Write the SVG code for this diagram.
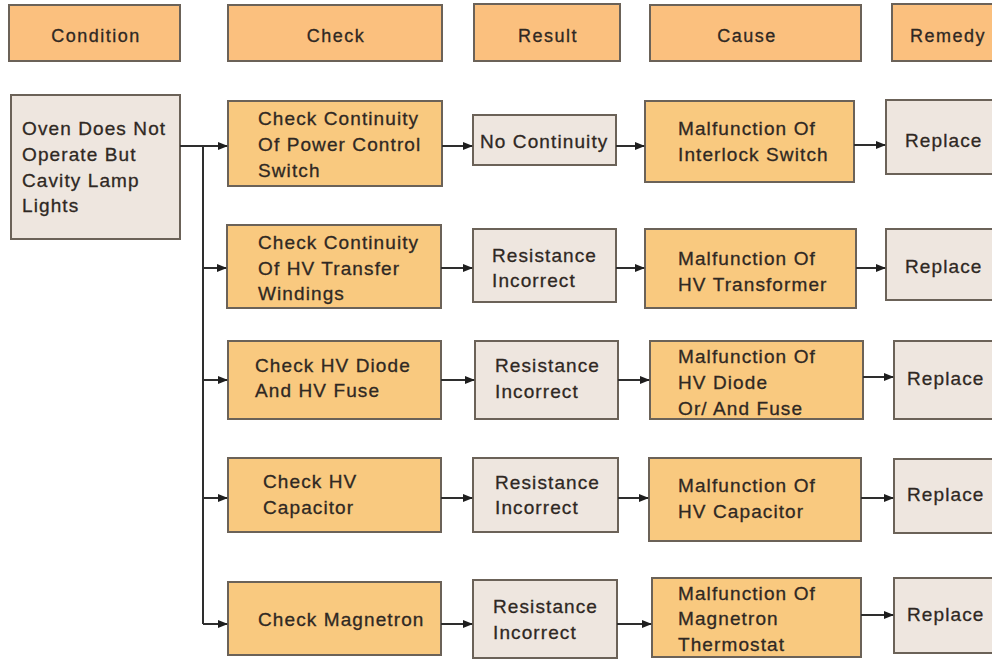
<svg xmlns="http://www.w3.org/2000/svg" width="992" height="662" viewBox="0 0 992 662">
  <style>
    .hdr { fill: #fbc07e; stroke: #6b6258; stroke-width: 2; }
    .org { fill: #f9c97f; stroke: #6b6258; stroke-width: 2; }
    .gry { fill: #eee6df; stroke: #6b6258; stroke-width: 2; }
    text { font-family: "Liberation Sans", Arial, sans-serif; fill: #2f2823; stroke: #2f2823; stroke-width: 0.3; }
    .ht { font-size: 18px; letter-spacing: 1.5px; text-anchor: middle; dominant-baseline: central; }
    .nt { font-size: 19px; letter-spacing: 1.1px; dominant-baseline: central; }
    .ln { stroke: #2e2e2e; stroke-width: 2; fill: none; }
    .ar { stroke: #2e2e2e; stroke-width: 2; fill: none; marker-end: url(#tip); }
  </style>
  <defs>
    <marker id="tip" markerWidth="10" markerHeight="10" refX="9" refY="5" orient="auto" markerUnits="userSpaceOnUse">
      <path d="M0,1 L10,5 L0,9 Z" fill="#1e1e1e"/>
    </marker>
  </defs>
  <rect width="992" height="662" fill="#ffffff"/>

  <!-- column headers -->
  <g id="hdr-condition"><rect class="hdr" x="9" y="5" width="171" height="56"/><text class="ht" x="96" y="36">Condition</text></g>
  <g id="hdr-check"><rect class="hdr" x="228" y="5" width="214" height="56"/><text class="ht" x="336" y="36">Check</text></g>
  <g id="hdr-result"><rect class="hdr" x="474" y="4" width="146" height="57"/><text class="ht" x="548" y="36">Result</text></g>
  <g id="hdr-cause"><rect class="hdr" x="650" y="5" width="211" height="56"/><text class="ht" x="747" y="36">Cause</text></g>
  <g id="hdr-remedy"><rect class="hdr" x="892" y="4" width="110" height="57"/><text class="ht" x="948" y="36">Remedy</text></g>

  <!-- condition -->
  <g id="condition">
    <rect class="gry" x="11" y="95" width="169" height="144"/>
    <text class="nt" x="22" y="128">Oven Does Not</text>
    <text class="nt" x="22" y="154">Operate But</text>
    <text class="nt" x="22" y="180">Cavity Lamp</text>
    <text class="nt" x="22" y="205">Lights</text>
  </g>

  <!-- row 1 -->
  <g id="check-1">
    <rect class="org" x="228" y="101" width="214" height="85"/>
    <text class="nt" x="258" y="118">Check Continuity</text>
    <text class="nt" x="258" y="144">Of Power Control</text>
    <text class="nt" x="258" y="170">Switch</text>
  </g>
  <g id="result-1">
    <rect class="gry" x="473" y="115" width="143" height="50"/>
    <text class="nt" x="480" y="141">No Continuity</text>
  </g>
  <g id="cause-1">
    <rect class="org" x="645" y="101" width="209" height="81"/>
    <text class="nt" x="678" y="128">Malfunction Of</text>
    <text class="nt" x="678" y="154">Interlock Switch</text>
  </g>
  <g id="remedy-1">
    <rect class="gry" x="886" y="100" width="116" height="74"/>
    <text class="nt" x="905" y="140">Replace</text>
  </g>

  <!-- row 2 -->
  <g id="check-2">
    <rect class="org" x="227" y="225" width="214" height="83"/>
    <text class="nt" x="258" y="242">Check Continuity</text>
    <text class="nt" x="258" y="268">Of HV Transfer</text>
    <text class="nt" x="258" y="293">Windings</text>
  </g>
  <g id="result-2">
    <rect class="gry" x="473" y="229" width="143" height="73"/>
    <text class="nt" x="492" y="255">Resistance</text>
    <text class="nt" x="492" y="280">Incorrect</text>
  </g>
  <g id="cause-2">
    <rect class="org" x="645" y="229" width="211" height="79"/>
    <text class="nt" x="678" y="258">Malfunction Of</text>
    <text class="nt" x="678" y="284">HV Transformer</text>
  </g>
  <g id="remedy-2">
    <rect class="gry" x="886" y="229" width="116" height="71"/>
    <text class="nt" x="905" y="266">Replace</text>
  </g>

  <!-- row 3 -->
  <g id="check-3">
    <rect class="org" x="228" y="341" width="213" height="78"/>
    <text class="nt" x="255" y="365">Check HV Diode</text>
    <text class="nt" x="255" y="390">And HV Fuse</text>
  </g>
  <g id="result-3">
    <rect class="gry" x="475" y="341" width="143" height="78"/>
    <text class="nt" x="495" y="365">Resistance</text>
    <text class="nt" x="495" y="391">Incorrect</text>
  </g>
  <g id="cause-3">
    <rect class="org" x="650" y="341" width="213" height="78"/>
    <text class="nt" x="678" y="356">Malfunction Of</text>
    <text class="nt" x="678" y="382">HV Diode</text>
    <text class="nt" x="678" y="408">Or/ And Fuse</text>
  </g>
  <g id="remedy-3">
    <rect class="gry" x="894" y="341" width="108" height="78"/>
    <text class="nt" x="907" y="378">Replace</text>
  </g>

  <!-- row 4 -->
  <g id="check-4">
    <rect class="org" x="228" y="458" width="213" height="74"/>
    <text class="nt" x="263" y="481">Check HV</text>
    <text class="nt" x="263" y="507">Capacitor</text>
  </g>
  <g id="result-4">
    <rect class="gry" x="473" y="458" width="145" height="74"/>
    <text class="nt" x="495" y="482">Resistance</text>
    <text class="nt" x="495" y="507">Incorrect</text>
  </g>
  <g id="cause-4">
    <rect class="org" x="649" y="458" width="212" height="83"/>
    <text class="nt" x="678" y="485">Malfunction Of</text>
    <text class="nt" x="678" y="511">HV Capacitor</text>
  </g>
  <g id="remedy-4">
    <rect class="gry" x="894" y="459" width="108" height="74"/>
    <text class="nt" x="907" y="494">Replace</text>
  </g>

  <!-- row 5 -->
  <g id="check-5">
    <rect class="org" x="228" y="582" width="213" height="73"/>
    <text class="nt" x="258" y="619">Check Magnetron</text>
  </g>
  <g id="result-5">
    <rect class="gry" x="473" y="580" width="144" height="78"/>
    <text class="nt" x="493" y="606">Resistance</text>
    <text class="nt" x="493" y="632">Incorrect</text>
  </g>
  <g id="cause-5">
    <rect class="org" x="652" y="578" width="209" height="79"/>
    <text class="nt" x="678" y="593">Malfunction Of</text>
    <text class="nt" x="678" y="618">Magnetron</text>
    <text class="nt" x="678" y="644">Thermostat</text>
  </g>
  <g id="remedy-5">
    <rect class="gry" x="894" y="578" width="108" height="75"/>
    <text class="nt" x="907" y="614">Replace</text>
  </g>

  <!-- connectors -->
  <g id="connectors">
    <path class="ar" d="M180,146 H227"/>
    <path class="ln" d="M203,146 V624"/>
    <path class="ar" d="M203,268 H226"/>
    <path class="ar" d="M203,380 H227"/>
    <path class="ar" d="M203,498 H227"/>
    <path class="ar" d="M203,624 H227"/>

    <path class="ar" d="M442,146 H472"/>
    <path class="ar" d="M616,146 H644"/>
    <path class="ar" d="M854,145 H885"/>

    <path class="ar" d="M441,268 H472"/>
    <path class="ar" d="M616,268 H644"/>
    <path class="ar" d="M856,268 H885"/>

    <path class="ar" d="M441,380 H474"/>
    <path class="ar" d="M618,380 H649"/>
    <path class="ar" d="M863,377 H893"/>

    <path class="ar" d="M441,498 H472"/>
    <path class="ar" d="M618,498 H648"/>
    <path class="ar" d="M861,498 H893"/>

    <path class="ar" d="M441,624 H472"/>
    <path class="ar" d="M617,624 H651"/>
    <path class="ar" d="M861,615 H893"/>
  </g>
</svg>
